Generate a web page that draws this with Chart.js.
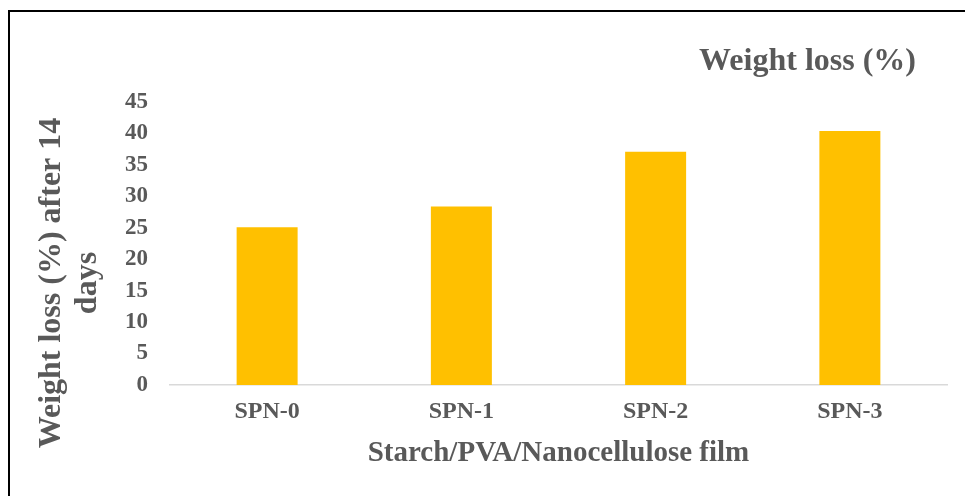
<!DOCTYPE html>
<html>
<head>
<meta charset="utf-8">
<title>Weight loss (%)</title>
<script src="https://cdn.jsdelivr.net/npm/chart.js@4.4.1/dist/chart.umd.min.js"></script>
<style>
  html, body { margin: 0; padding: 0; background: #fff; }
  #wrap { position: relative; width: 965px; height: 496px; overflow: hidden; }
  #frame {
    position: absolute; left: 8px; top: 10px;
    width: 1000px; height: 600px;
    border-left: 2px solid #000; border-top: 2px solid #000;
  }
  #chart { position: absolute; left: 0; top: 0; }
</style>
</head>
<body>
<div id="wrap">
  <div id="frame"></div>
  <canvas id="chart" width="965" height="496"></canvas>
</div>
<script>
// Film samples and their weight loss after 14 days of soil burial
const samples = ['SPN-0', 'SPN-1', 'SPN-2', 'SPN-3'];
const weightLoss = [25.1, 28.4, 37.1, 40.4];
const yTicks = [0, 5, 10, 15, 20, 25, 30, 35, 40, 45];

const chartTitle = 'Weight loss (%)';
const yTitleLines = ['Weight loss (%) after 14', 'days'];
const xTitle = 'Starch/PVA/Nanocellulose film';

const textGray = '#595959';
const serif = "'Liberation Serif', 'Times New Roman', serif";

// Title sits in the upper right and the y title is two rotated lines,
// both drawn by hand since Chart.js can't place them like this
const extraText = {
  id: 'extraText',
  afterDraw(chart) {
    const ctx = chart.ctx;
    ctx.save();
    ctx.fillStyle = textGray;
    ctx.font = 'bold 32px ' + serif;
    ctx.textAlign = 'right';
    ctx.textBaseline = 'middle';
    ctx.fillText(chartTitle, 916, 62);

    ctx.translate(52, 283);
    ctx.rotate(-Math.PI / 2);
    ctx.textAlign = 'center';
    ctx.font = 'bold 32px ' + serif;
    yTitleLines.forEach((line, i) => {
      ctx.fillText(line, 0, i * 36);
    });
    ctx.restore();
  }
};

new Chart(document.getElementById('chart'), {
  type: 'bar',
  data: {
    labels: samples,
    datasets: [{
      label: chartTitle,
      data: weightLoss,
      backgroundColor: '#FFC000',
      borderWidth: 0,
      barPercentage: 0.314,
      categoryPercentage: 1.0
    }]
  },
  options: {
    responsive: false,
    animation: false,
    layout: {
      padding: { left: 103, right: 18, top: 102, bottom: 28 }
    },
    plugins: {
      legend: { display: false },
      tooltip: { enabled: false }
    },
    scales: {
      x: {
        grid: { display: false, drawTicks: false },
        border: { display: true, color: '#D9D9D9', width: 1.5 },
        ticks: {
          color: textGray,
          padding: 15,
          font: { family: serif, size: 24, weight: 'bold', lineHeight: 1 }
        },
        title: {
          display: true,
          text: xTitle,
          color: textGray,
          padding: { top: 0, bottom: 0 },
          font: { family: serif, size: 29, weight: 'bold', lineHeight: 1 }
        }
      },
      y: {
        min: 0,
        max: 45,
        afterBuildTicks(scale) {
          scale.ticks = yTicks.map(v => ({ value: v }));
        },
        grid: { display: false, drawTicks: false },
        border: { display: false },
        ticks: {
          color: textGray,
          padding: 22,
          autoSkip: false,
          font: { family: serif, size: 23, weight: 'bold' }
        }
      }
    }
  },
  plugins: [extraText]
});
</script>
</body>
</html>
